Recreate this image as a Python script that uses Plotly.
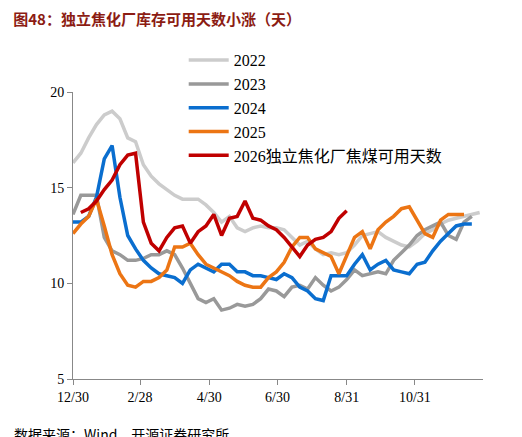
import plotly.graph_objects as go
import pandas as pd

base = pd.Timestamp("2023-12-30")
s2022 = [16.3,16.8,17.6,18.3,18.8,19.0,18.6,17.6,17.4,16.2,15.6,15.2,14.9,14.6,14.4,14.4,14.4,14.1,13.7,13.2,13.5,12.9,12.7,12.9,13.0,12.9,12.9,12.8,12.4,12.0,12.2,11.8,11.5,11.6,11.5,11.6,12.0,12.5,12.6,12.7,12.4,12.2,12.0,11.9,12.2,12.6,12.8,13.1,13.3,13.4,13.5,13.6,13.7]
s2023 = [13.6,14.6,14.6,14.6,12.4,11.7,11.5,11.2,11.2,11.3,11.5,11.5,11.7,11.5,10.8,10.0,9.2,9.0,9.2,8.6,8.7,8.9,8.8,8.9,9.2,9.7,9.6,9.3,9.8,9.9,9.7,10.3,9.9,9.6,9.8,10.2,10.7,10.4,10.5,10.6,10.5,11.2,11.6,12.0,12.5,12.8,13.0,13.2,12.5,12.3,13.2,13.5]
s2024 = [13.2,13.2,13.5,14.5,16.5,17.2,14.5,12.5,11.8,11.2,10.8,10.5,10.4,10.3,10.0,10.7,11.0,10.8,10.6,11.0,11.0,10.6,10.6,10.4,10.4,10.3,10.2,10.5,10.3,9.8,9.6,9.2,9.1,10.4,10.4,10.4,11.0,11.5,10.7,11.0,11.2,10.7,10.6,10.5,11.0,11.1,11.7,12.2,12.6,13.0,13.1,13.1]
s2025 = [12.6,13.1,13.5,14.4,13.0,11.5,10.5,9.9,9.8,10.1,10.1,10.3,10.7,11.9,11.9,12.1,11.5,11.0,10.8,10.6,10.4,10.1,9.9,9.8,9.8,10.3,10.6,11.1,11.9,12.4,12.4,11.8,11.6,11.4,10.5,11.5,12.4,12.7,11.8,12.8,13.2,13.5,13.9,14.0,13.3,12.6,12.4,13.3,13.6,13.6,13.6]
s2026 = [13.7,13.9,14.3,14.9,15.4,16.2,16.7,16.8,13.2,12.1,11.7,12.4,12.9,13.0,12.1,12.7,13.0,13.6,12.5,13.4,13.5,14.3,13.4,13.3,13.0,12.8,12.4,11.9,11.4,12.0,12.3,12.4,12.7,13.4,13.8]
tickvals = ["2023-12-30","2024-02-28","2024-04-30","2024-06-30","2024-08-31","2024-10-31"]
ticktext = ["12/30","2/28","4/30","6/30","8/31","10/31"]

def dates(n, start=0):
    return [base + pd.Timedelta(days=7*(start+i)) for i in range(n)]

fig = go.Figure()
series = [("2022", s2022, "#cccccc", 0), ("2023", s2023, "#999999", 0),
          ("2024", s2024, "#0a6ecf", 0), ("2025", s2025, "#ec7514", 0),
          ("2026独立焦化厂焦煤可用天数", s2026, "#c00000", 1)]
for name, v, c, st in series:
    fig.add_trace(go.Scatter(x=dates(len(v), st), y=v, mode="lines", name=name,
                             line=dict(color=c, width=3.5)))

fig.update_layout(
    width=522, height=437, paper_bgcolor="white", plot_bgcolor="white",
    margin=dict(l=65, r=47, t=84, b=66, autoexpand=False),
    font=dict(family="Liberation Serif, Noto Sans CJK SC", size=14, color="black"),
    title=dict(text="<b>图48：独立焦化厂库存可用天数小涨（天）</b>", x=0.01, xanchor="left", y=0.985, yanchor="top",
               font=dict(family="Noto Sans CJK SC", size=15, color="#8c1c13")),
    legend=dict(x=0.27, y=1.17, xanchor="left", yanchor="top", bgcolor="rgba(0,0,0,0)",
                font=dict(size=16, family="Liberation Serif, Noto Sans CJK SC"), tracegroupgap=0,
                itemwidth=40),
    showlegend=True,
)
fig.update_xaxes(range=["2023-12-30", "2024-12-31"], tickvals=tickvals, ticktext=ticktext,
                 showgrid=False, showline=True, linecolor="#888888", ticks="outside",
                 tickcolor="#888888", ticklen=5)
fig.update_yaxes(range=[5, 20], tickvals=[5, 10, 15, 20], showgrid=False, showline=True,
                 linecolor="#888888", ticks="outside", tickcolor="#888888", ticklen=5, zeroline=False)
fig.add_annotation(text="数据来源：Wind、开源证券研究所", xref="paper", yref="paper", x=-0.15, y=-0.15,
                   xanchor="left", yanchor="top", showarrow=False,
                   font=dict(family="Noto Sans CJK SC", size=14, color="black"))
fig.write_html("out.html")
